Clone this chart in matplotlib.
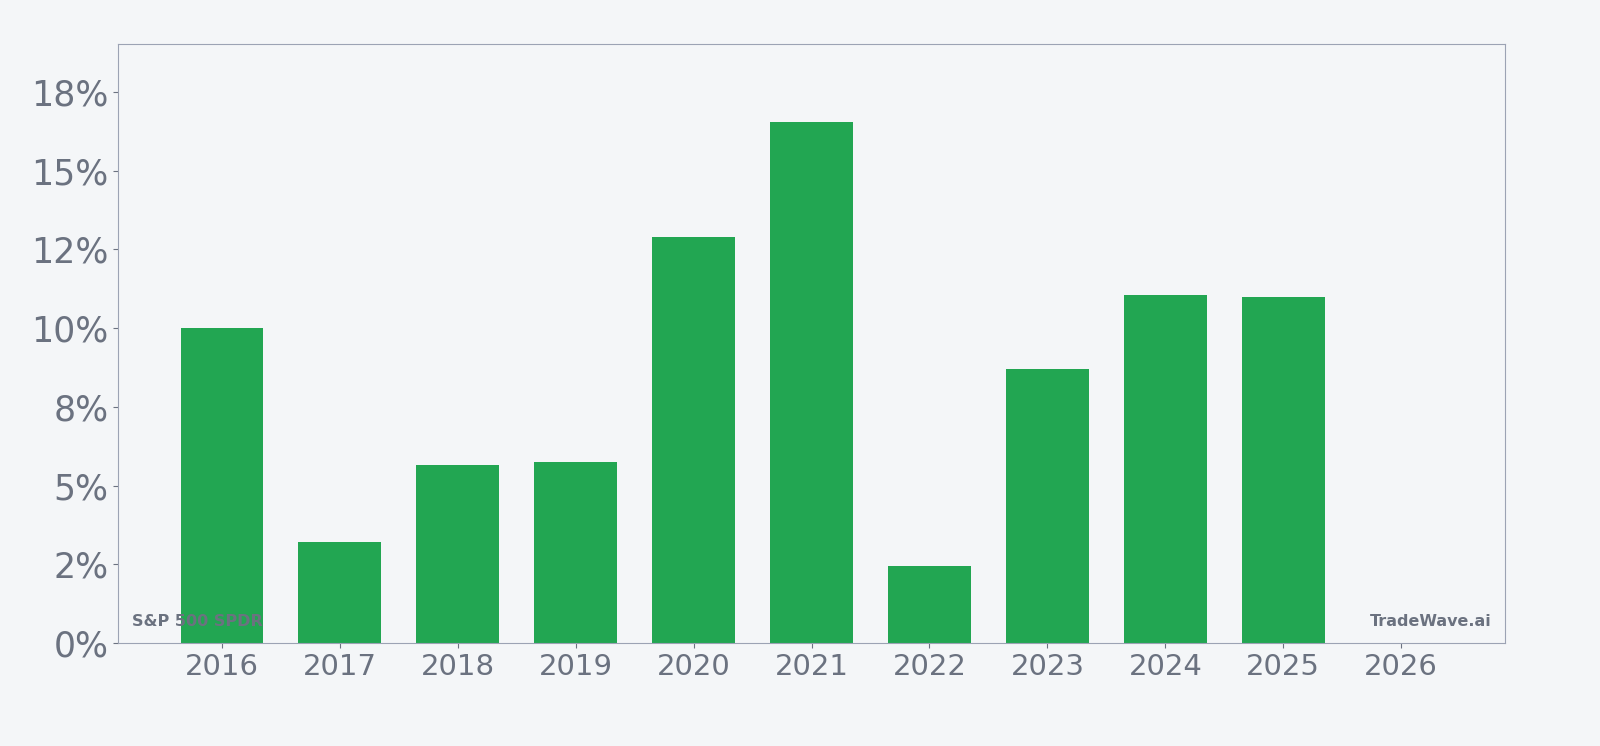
import matplotlib
matplotlib.use('Agg')
import matplotlib.pyplot as plt
from matplotlib.ticker import FuncFormatter

years = [2016, 2017, 2018, 2019, 2020, 2021, 2022, 2023, 2024, 2025]
returns = [10.0, 3.2, 5.65, 5.75, 12.9, 16.55, 2.45, 8.7, 11.05, 11.0]
yticks = [0, 2.5, 5, 7.5, 10, 12.5, 15, 17.5]
xticks = list(range(2016, 2027))

bg = '#f4f6f8'
txt = '#6b7280'
fig = plt.figure(figsize=(16, 7.46), dpi=100, facecolor=bg)
ax = fig.add_axes([118/1600, 1 - 643/746, (1505-118)/1600, (643-44)/746])
ax.set_facecolor(bg)
ax.bar(years, returns, width=0.7, color='#22a652', zorder=2)
ax.set_xlim(2015.12, 2026.88)
ax.set_ylim(0, 19.02)
ax.set_yticks(yticks)
ax.yaxis.set_major_formatter(FuncFormatter(lambda v, p: '{:.0f}%'.format(v)))
ax.set_xticks(xticks)
ax.tick_params(axis='y', labelsize=25, colors=txt, labelcolor=txt)
ax.tick_params(axis='x', labelsize=21, colors=txt, labelcolor=txt)
for s in ax.spines.values():
    s.set_color('#9ca3b4')
ax.text(0.01, 0.023, 'S&P 500 SPDR', transform=ax.transAxes, fontsize=11.5,
        fontweight='bold', color=txt, ha='left', va='bottom', zorder=3)
ax.text(0.99, 0.023, 'TradeWave.ai', transform=ax.transAxes, fontsize=11.5,
        fontweight='bold', color=txt, ha='right', va='bottom', zorder=3)
plt.savefig('out.png', facecolor=bg)
